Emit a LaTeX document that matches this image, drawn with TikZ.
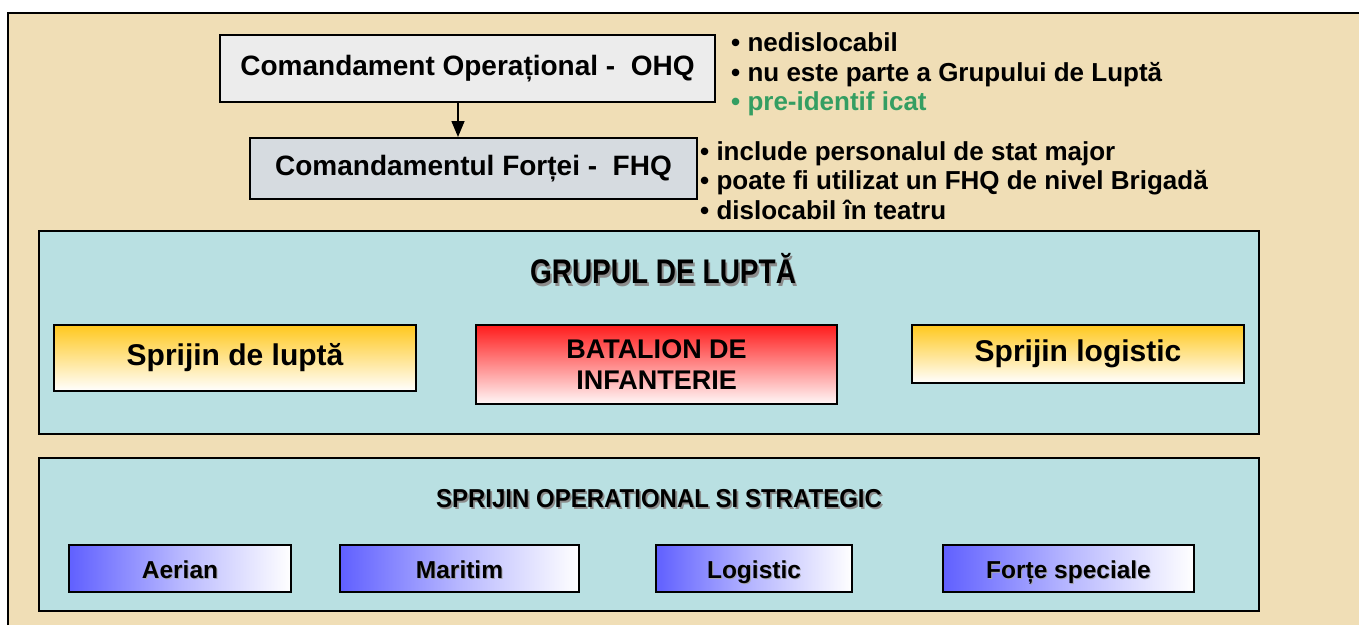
\documentclass[tikz,border=0pt]{standalone}
\usepackage{fontspec}
\setmainfont{Liberation Sans}
\usetikzlibrary{arrows.meta}
\definecolor{beige}{RGB}{240,222,182}
\definecolor{panel}{RGB}{185,224,226}
\definecolor{ohqfill}{RGB}{236,236,236}
\definecolor{fhqfill}{RGB}{214,219,224}
\definecolor{gold}{RGB}{255,200,30}
\definecolor{redtop}{RGB}{255,28,28}
\definecolor{bluel}{RGB}{96,96,255}
\definecolor{greentxt}{RGB}{52,158,98}
\definecolor{shadowgray}{RGB}{140,140,140}
\definecolor{shadowlight}{RGB}{165,165,175}
\newcommand{\shd}[1]{\rlap{\textcolor{shadowgray}{\kern1.8pt\raisebox{-1.8pt}{#1}}}#1}
\newcommand{\shdl}[1]{\rlap{\textcolor{shadowlight}{\kern1pt\raisebox{-1pt}{#1}}}#1}
\newcommand{\fs}[2]{\fontsize{#1}{#2}\selectfont\bfseries}
\tikzset{
  hq/.style={draw=black, line width=2.2pt, inner sep=0pt, font=\fs{28}{32}},
  panelbox/.style={draw=black, line width=1.3pt, fill=panel, inner sep=0pt, minimum width=1220},
  unitbox/.style={draw=black, line width=1.3pt, inner sep=0pt, align=center},
  goldbox/.style={unitbox, top color=gold, bottom color=white, font=\fs{30}{32}},
  redbox/.style={unitbox, top color=redtop, bottom color=red!3!white, font=\fs{27}{31}},
  bluebox/.style={unitbox, left color=bluel, right color=white, middle color=bluel!45!white, minimum height=47, text height=19pt, text depth=0pt, font=\fs{24.5}{28}},
  bullets/.style={anchor=west, align=left, inner sep=0pt, font=\fs{26}{29.5}},
  title/.style={inner sep=0pt}
}
\begin{document}
\begin{tikzpicture}[x=1pt,y=-1pt]
\useasboundingbox (0,0) rectangle (1359,625);
\fill[white] (0,0) rectangle (1359,625);
\fill[beige] (8,13) rectangle (1359,625);
\draw[line width=2pt] (8,625) -- (8,13) -- (1359,13);

% headquarters
\node[hq, fill=ohqfill, minimum width=495, minimum height=67] (ohq) at (467.5,68.5) {Comandament Operațional -~ OHQ};
\node[hq, fill=fhqfill, line width=2pt, minimum width=447, minimum height=61] (fhq) at (473.5,168.5) {Comandamentul Forței -~ FHQ};
\draw[line width=1.5pt, -{Triangle[length=16pt,width=13pt]}] ([xshift=-9.5pt]ohq.south) -- ([xshift=-15.5pt]fhq.north);

% bullet lists
\node[bullets] (b1) at (731,74.5) {• nedislocabil\\• nu este parte a Grupului de Luptă\\\textcolor{greentxt}{• pre-identif icat}};
\node[bullets] (b2) at (700,180.5) {• include personalul de stat major\\• poate fi utilizat un FHQ de nivel Brigadă\\• dislocabil în teatru};

% battle group
\node[panelbox, minimum height=203] (grup) at (649,332.5) {};
\node[title, font=\fs{28}{32}] (grupt) at (663,270) {\scalebox{1}[1.22]{\shd{GRUPUL DE LUPTĂ}}};
\node[goldbox, minimum width=362, minimum height=66] (spl) at (235,358) {Sprijin de luptă};
\node[redbox, minimum width=361, minimum height=79] (bat) at (656.5,364.5) {BATALION DE\\INFANTERIE};
\node[goldbox, minimum width=332, minimum height=58] (slog) at (1078,354) {Sprijin logistic};

% operational and strategic support
\node[panelbox, minimum height=153] (sos) at (649,534.5) {};
\node[title, font=\fs{24}{28}] (sost) at (659,500) {\scalebox{1}[1.08]{\shd{SPRIJIN OPERATIONAL SI STRATEGIC}}};
\node[bluebox, minimum width=222] (aer) at (180,568.5) {\shdl{Aerian}};
\node[bluebox, minimum width=239] (mar) at (459.5,568.5) {\shdl{Maritim}};
\node[bluebox, minimum width=196] (logi) at (754,568.5) {\shdl{Logistic}};
\node[bluebox, minimum width=251] (fs) at (1068.5,568.5) {\shdl{Forțe speciale}};
\end{tikzpicture}
\end{document}
